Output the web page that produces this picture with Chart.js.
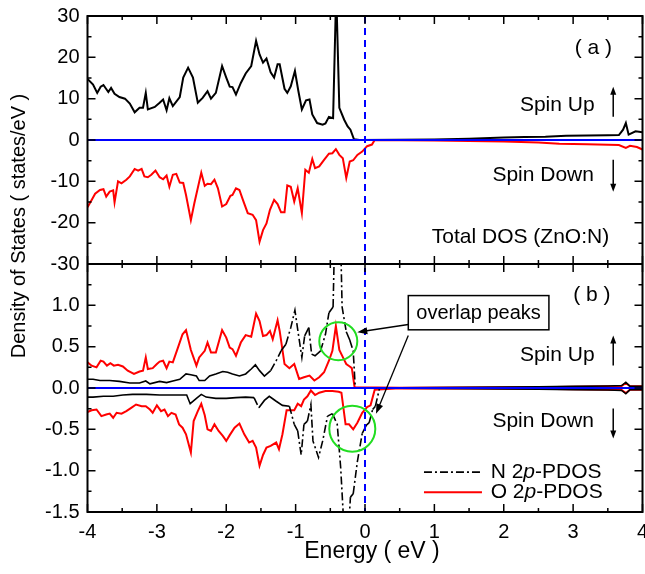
<!DOCTYPE html>
<html>
<head>
<meta charset="utf-8">
<script src="https://cdn.jsdelivr.net/npm/chart.js@4.4.1/dist/chart.umd.min.js"></script>
<style>
  body { margin: 0; background: #fff; }
</style>
</head>
<body>
<canvas id="myChart" width="645" height="574"></canvas>
<script>
// Datos (energía en eV, DOS en estados/eV)

// (a) DOS total, spin up
const totUpE = [-4.00,-3.92,-3.86,-3.81,-3.77,-3.70,-3.66,-3.61,-3.54,-3.46,-3.39,-3.32,-3.25,-3.20,-3.16,-3.13,-3.03,-2.96,-2.91,-2.86,-2.82,-2.77,-2.67,-2.62,-2.55,-2.48,-2.41,-2.34,-2.27,-2.22,-2.15,-2.06,-2.00,-1.95,-1.91,-1.86,-1.79,-1.72,-1.64,-1.57,-1.52,-1.47,-1.42,-1.36,-1.31,-1.26,-1.23,-1.16,-1.12,-1.07,-1.01,-0.96,-0.91,-0.85,-0.80,-0.76,-0.69,-0.61,-0.57,-0.52,-0.46,-0.415,-0.37,-0.30,-0.25,-0.21,-0.16,-0.08,0.5,1.0,1.5,2.0,2.3,2.6,2.9,3.2,3.5,3.66,3.72,3.76,3.80,3.9,4.0];
const totUpV = [14.8,13.4,11.4,12.9,13.3,11.6,12.6,11.2,10.4,10.0,8.8,6.7,7.8,7.8,11.4,7.4,8.0,9.0,9.8,7.2,10.1,8.2,10.4,15.1,17.5,15.1,9.0,10.2,11.8,10.0,11.4,17.9,15.1,12.9,12.8,11.0,13.8,16.1,17.9,24.0,20.7,18.7,19.7,16.4,15.1,18.3,18.3,12.4,11.4,13.0,16.7,11.8,7.4,9.6,9.8,6.2,4.1,3.7,4.0,5.6,5.3,36,7.8,4.9,3.3,2.5,0.2,0,0.05,0.15,0.3,0.6,0.75,0.8,1.0,1.1,1.15,1.2,2.5,4.1,1.3,2.1,1.9];

// (a) DOS total, spin down
const totDnE = [-4.00,-3.94,-3.89,-3.82,-3.77,-3.73,-3.68,-3.63,-3.61,-3.56,-3.51,-3.44,-3.39,-3.32,-3.27,-3.22,-3.18,-3.13,-3.08,-3.02,-2.96,-2.91,-2.86,-2.82,-2.77,-2.72,-2.67,-2.62,-2.58,-2.51,-2.46,-2.36,-2.31,-2.27,-2.22,-2.17,-2.12,-2.06,-2.00,-1.94,-1.91,-1.86,-1.81,-1.76,-1.69,-1.62,-1.57,-1.52,-1.47,-1.42,-1.37,-1.31,-1.26,-1.21,-1.16,-1.12,-1.07,-1.02,-0.97,-0.91,-0.86,-0.81,-0.76,-0.72,-0.66,-0.59,-0.52,-0.47,-0.42,-0.37,-0.32,-0.27,-0.22,-0.17,-0.11,-0.04,0.03,0.10,0.14,0.5,1.0,1.5,2.0,2.5,2.8,3.2,3.66,3.76,3.82,3.92,4.0];
const totDnV = [-16.3,-14.5,-13.0,-12.1,-11.9,-13.7,-12.5,-12.2,-15.1,-10.0,-10.5,-9.6,-8.8,-7.0,-7.4,-7.0,-8.8,-9.0,-8.4,-7.4,-9.0,-9.5,-8.6,-11.3,-8.4,-8.2,-10.3,-10.4,-13.3,-19.4,-15.3,-7.9,-11.1,-10.6,-10.7,-9.6,-11.7,-16.1,-15.5,-13.5,-13.3,-11.7,-12.1,-14.5,-17.7,-18.1,-19.4,-24.6,-21.8,-20.2,-16.9,-14.5,-15.5,-17.5,-17.5,-11.0,-11.3,-14.9,-11.7,-17.7,-7.2,-7.9,-4.6,-6.8,-6.4,-4.8,-3.3,-3.2,-2.2,-3.6,-4.4,-9.2,-5.2,-4.9,-3.6,-2.8,-1.5,-1.1,0,-0.05,-0.1,-0.25,-0.35,-0.6,-0.9,-1.0,-1.2,-1.9,-1.4,-1.7,-2.3];

// (b) N 2p, spin up
const nUpE = [-4.00,-3.92,-3.82,-3.68,-3.54,-3.39,-3.25,-3.16,-3.10,-2.96,-2.86,-2.77,-2.67,-2.58,-2.51,-2.43,-2.39,-2.31,-2.24,-2.15,-2.05,-1.98,-1.91,-1.81,-1.72,-1.64,-1.58,-1.52,-1.45,-1.36,-1.28,-1.21,-1.14,-1.07,-1.01,-0.96,-0.91,-0.87,-0.81,-0.77,-0.72,-0.64,-0.57,-0.52,-0.46,-0.395,-0.33,-0.27,-0.22,-0.17,-0.14,0.5,1.5,2.5,3.0,3.5,3.7,3.76,3.82,4.0];
const nUpV = [0.105,0.105,0.09,0.09,0.08,0.06,0.06,0.085,0.05,0.08,0.065,0.085,0.105,0.17,0.16,0.145,0.09,0.09,0.145,0.17,0.20,0.19,0.17,0.145,0.17,0.23,0.28,0.21,0.145,0.21,0.33,0.45,0.53,0.73,0.94,0.65,0.37,0.63,0.73,0.41,0.39,0.45,0.65,0.91,0.98,3.5,0.98,0.68,0.58,0.45,0,0.003,0.008,0.015,0.02,0.025,0.03,0.07,0.02,0.02];

// (b) N 2p, spin down
const nDnE = [-4.00,-3.92,-3.77,-3.63,-3.49,-3.35,-3.15,-2.96,-2.82,-2.67,-2.57,-2.52,-2.43,-2.36,-2.29,-2.15,-2.00,-1.86,-1.72,-1.60,-1.53,-1.45,-1.38,-1.28,-1.19,-1.09,-1.02,-0.97,-0.92,-0.88,-0.83,-0.78,-0.75,-0.67,-0.61,-0.54,-0.47,-0.40,-0.35,-0.27,-0.21,-0.17,-0.11,-0.04,0.02,0.06,0.11,0.15,0.21,0.5,1.5,2.5,3.0,3.5,3.7,3.76,3.82,4.0];
const nDnV = [-0.11,-0.11,-0.10,-0.10,-0.085,-0.077,-0.077,-0.085,-0.085,-0.085,-0.085,-0.19,-0.125,-0.077,-0.11,-0.125,-0.125,-0.117,-0.11,-0.117,-0.24,-0.15,-0.10,-0.16,-0.21,-0.22,-0.44,-0.52,-0.81,-0.44,-0.40,-0.20,-0.64,-0.84,-0.64,-0.34,-0.31,-0.44,-0.97,-2.2,-1.32,-1.28,-0.89,-0.55,-0.45,-0.42,-0.26,-0.22,0,-0.003,-0.008,-0.015,-0.02,-0.025,-0.03,-0.07,-0.02,-0.02];

// (b) O 2p, spin up
const oUpE = [-4.00,-3.94,-3.87,-3.81,-3.77,-3.72,-3.67,-3.62,-3.56,-3.49,-3.42,-3.33,-3.25,-3.20,-3.16,-3.13,-3.06,-3.00,-2.96,-2.91,-2.86,-2.82,-2.77,-2.70,-2.63,-2.58,-2.51,-2.43,-2.39,-2.31,-2.27,-2.22,-2.15,-2.06,-2.00,-1.95,-1.91,-1.86,-1.79,-1.72,-1.64,-1.57,-1.52,-1.47,-1.42,-1.37,-1.33,-1.26,-1.23,-1.16,-1.09,-1.02,-0.95,-0.88,-0.80,-0.73,-0.66,-0.59,-0.52,-0.47,-0.42,-0.37,-0.30,-0.27,-0.22,-0.19,-0.15,0.5,1.5,2.5,3.0,3.5,3.7,3.76,3.82,4.0];
const oUpV = [0.31,0.27,0.25,0.33,0.32,0.27,0.30,0.27,0.28,0.26,0.21,0.17,0.20,0.21,0.37,0.23,0.24,0.29,0.32,0.33,0.24,0.32,0.31,0.48,0.65,0.70,0.46,0.27,0.37,0.45,0.55,0.43,0.43,0.70,0.61,0.49,0.47,0.39,0.55,0.64,0.62,0.90,0.81,0.63,0.64,0.69,0.59,0.82,0.69,0.29,0.24,0.29,0.11,0.13,0.15,0.09,0.13,0.19,0.33,0.45,0.75,0.46,0.34,0.29,0.26,0.24,0.01,0.002,0.005,0.01,0.015,0.02,0.025,0.06,0.02,0.02];

// (b) O 2p, spin down
const oDnE = [-4.00,-3.94,-3.87,-3.80,-3.73,-3.68,-3.63,-3.58,-3.51,-3.44,-3.37,-3.30,-3.22,-3.16,-3.10,-3.06,-3.00,-2.94,-2.89,-2.84,-2.79,-2.73,-2.68,-2.63,-2.58,-2.51,-2.47,-2.41,-2.36,-2.31,-2.27,-2.22,-2.17,-2.11,-2.05,-2.00,-1.95,-1.88,-1.81,-1.74,-1.67,-1.62,-1.57,-1.52,-1.47,-1.42,-1.36,-1.28,-1.24,-1.19,-1.13,-1.07,-1.02,-0.97,-0.92,-0.88,-0.83,-0.78,-0.72,-0.66,-0.57,-0.47,-0.38,-0.34,-0.28,-0.23,-0.17,-0.11,-0.04,0.03,0.08,0.14,0.5,1.5,2.5,3.0,3.5,3.7,3.76,3.82,4.0];
const oDnV = [-0.29,-0.27,-0.26,-0.34,-0.32,-0.31,-0.36,-0.30,-0.31,-0.28,-0.24,-0.20,-0.22,-0.22,-0.26,-0.30,-0.21,-0.28,-0.26,-0.34,-0.30,-0.32,-0.44,-0.48,-0.56,-0.78,-0.40,-0.28,-0.19,-0.33,-0.50,-0.52,-0.44,-0.52,-0.58,-0.64,-0.57,-0.48,-0.43,-0.56,-0.66,-0.64,-0.72,-0.94,-0.81,-0.72,-0.70,-0.66,-0.74,-0.56,-0.27,-0.27,-0.27,-0.19,-0.22,-0.14,-0.10,-0.03,-0.085,-0.057,-0.036,-0.036,-0.045,-0.057,-0.44,-0.44,-0.50,-0.42,-0.30,-0.23,-0.21,-0.02,-0.002,-0.005,-0.01,-0.015,-0.02,-0.025,-0.06,-0.02,-0.02];

// Ejes
const xTicks = [-4, -3, -2, -1, 0, 1, 2, 3, 4];
const yTicksA = [30, 20, 10, 0, -10, -20, -30];
const yTicksB = [1.0, 0.5, 0.0, -0.5, -1.0, -1.5];

const FONT = "'Liberation Sans', Arial, sans-serif";
Chart.defaults.font.family = FONT;
Chart.defaults.color = '#000';

function pts(E, V) {
    return E.map((e, i) => ({ x: e, y: V[i] }));
}

// Origin-like dash-dot: solo en los tramos largos y empinados
const dashDot = [8, 3, 2, 3];
function nSegment(ctx) {
    const dx = ctx.p1.x - ctx.p0.x, dy = ctx.p1.y - ctx.p0.y;
    return (Math.abs(dy) > 7 && Math.hypot(dx, dy) > 10) ? dashDot : [];
}

function line(label, E, V, axis, color, extra) {
    return Object.assign({
        label: label,
        data: pts(E, V),
        yAxisID: axis,
        borderColor: color,
        borderWidth: 2,
        pointRadius: 0,
        tension: 0,
        fill: false
    }, extra || {});
}

const datasets = [
    line('Total up', totUpE, totUpV, 'ya', '#000'),
    line('Total down', totDnE, totDnV, 'ya', '#ff0000'),
    line('N 2p up', nUpE, nUpV, 'yb', '#000', { borderWidth: 1.6, segment: { borderDash: nSegment } }),
    line('N 2p down', nDnE, nDnV, 'yb', '#000', { borderWidth: 1.6, segment: { borderDash: nSegment } }),
    line('O 2p up', oUpE, oUpV, 'yb', '#ff0000'),
    line('O 2p down', oDnE, oDnV, 'yb', '#ff0000')
];

function arrowHead(ctx, x0, y0, x1, y1, len, half) {
    const a = Math.atan2(y1 - y0, x1 - x0);
    ctx.beginPath();
    ctx.moveTo(x1, y1);
    ctx.lineTo(x1 - len * Math.cos(a) + half * Math.sin(a), y1 - len * Math.sin(a) - half * Math.cos(a));
    ctx.lineTo(x1 - len * Math.cos(a) - half * Math.sin(a), y1 - len * Math.sin(a) + half * Math.cos(a));
    ctx.closePath();
    ctx.fill();
}

function arrow(ctx, x0, y0, x1, y1, len, half) {
    const a = Math.atan2(y1 - y0, x1 - x0);
    ctx.beginPath();
    ctx.moveTo(x0, y0);
    ctx.lineTo(x1 - len * 0.8 * Math.cos(a), y1 - len * 0.8 * Math.sin(a));
    ctx.stroke();
    arrowHead(ctx, x0, y0, x1, y1, len, half);
}

const decor = {
    id: 'decor',
    // cada panel recorta sus propias curvas
    beforeDatasetDraw(chart, args) {
        const ds = chart.data.datasets[args.index];
        const ys = chart.scales[ds.yAxisID];
        const a = chart.chartArea;
        chart.ctx.save();
        chart.ctx.beginPath();
        chart.ctx.rect(a.left, ys.top, a.right - a.left, ys.bottom - ys.top);
        chart.ctx.clip();
    },
    afterDatasetDraw(chart) {
        chart.ctx.restore();
    },
    afterDatasetsDraw(chart) {
        const ctx = chart.ctx;
        const a = chart.chartArea;
        const x = chart.scales.x, ya = chart.scales.ya, yb = chart.scales.yb;
        ctx.save();

        // líneas azules en 0
        ctx.strokeStyle = '#0000ff';
        ctx.lineWidth = 2;
        [ya, yb].forEach(s => {
            ctx.beginPath();
            ctx.moveTo(a.left, s.getPixelForValue(0));
            ctx.lineTo(a.right, s.getPixelForValue(0));
            ctx.stroke();
        });
        ctx.setLineDash([7, 5]);
        ctx.beginPath();
        ctx.moveTo(x.getPixelForValue(0), a.top);
        ctx.lineTo(x.getPixelForValue(0), a.bottom);
        ctx.stroke();
        ctx.setLineDash([]);

        // marco y divisor
        ctx.strokeStyle = '#000';
        ctx.lineWidth = 2;
        ctx.strokeRect(a.left, a.top, a.right - a.left, a.bottom - a.top);
        ctx.beginPath();
        ctx.moveTo(a.left, ya.bottom);
        ctx.lineTo(a.right, ya.bottom);
        ctx.stroke();

        // marcas hacia dentro
        ctx.lineWidth = 1.5;
        ctx.beginPath();
        for (let e = -4; e <= 4.001; e += 0.5) {
            const px = x.getPixelForValue(e);
            const L = Math.abs(e - Math.round(e)) < 1e-6 ? 8 : 4;
            [ya, yb].forEach(s => {
                ctx.moveTo(px, s.top); ctx.lineTo(px, s.top + L);
                ctx.moveTo(px, s.bottom); ctx.lineTo(px, s.bottom - L);
            });
        }
        [[ya, 5, 10], [yb, 0.25, 0.5]].forEach(([s, minor, major]) => {
            for (let v = s.min; v <= s.max + 1e-6; v += minor) {
                const py = s.getPixelForValue(v);
                const L = Math.abs(v / major - Math.round(v / major)) < 1e-6 ? 8 : 4;
                ctx.moveTo(a.left, py); ctx.lineTo(a.left + L, py);
                ctx.moveTo(a.right, py); ctx.lineTo(a.right - L, py);
            }
        });
        ctx.stroke();

        // círculos verdes
        ctx.strokeStyle = '#22dd22';
        ctx.lineWidth = 2;
        ctx.beginPath();
        ctx.arc(x.getPixelForValue(-0.385), yb.getPixelForValue(0.566), 19, 0, 2 * Math.PI);
        ctx.stroke();
        ctx.beginPath();
        ctx.arc(x.getPixelForValue(-0.183), yb.getPixelForValue(-0.493), 23, 0, 2 * Math.PI);
        ctx.stroke();

        // textos
        ctx.fillStyle = '#000';
        ctx.strokeStyle = '#000';
        ctx.textBaseline = 'middle';
        ctx.font = '21px ' + FONT;
        ctx.textAlign = 'right';
        ctx.fillText('( a )', x.getPixelForValue(3.56), ya.getPixelForValue(22.1));
        ctx.fillText('Spin Up', x.getPixelForValue(3.31), ya.getPixelForValue(8.3));
        ctx.fillText('Spin Down', x.getPixelForValue(3.30), ya.getPixelForValue(-8.4));
        ctx.fillText('Total DOS (ZnO:N)', x.getPixelForValue(3.52), ya.getPixelForValue(-23.4));
        ctx.fillText('( b )', x.getPixelForValue(3.54), yb.getPixelForValue(1.119));
        ctx.fillText('Spin Up', x.getPixelForValue(3.31), yb.getPixelForValue(0.393));
        ctx.fillText('Spin Down', x.getPixelForValue(3.30), yb.getPixelForValue(-0.402));

        // flechas de spin
        ctx.lineWidth = 1.5;
        const ax = x.getPixelForValue(3.578);
        arrow(ctx, ax, ya.getPixelForValue(5.6), ax, ya.getPixelForValue(12.9), 8, 3);
        arrow(ctx, ax, ya.getPixelForValue(-4.8), ax, ya.getPixelForValue(-12.5), 8, 3);
        arrow(ctx, ax, yb.getPixelForValue(0.272), ax, yb.getPixelForValue(0.635), 8, 3);
        arrow(ctx, ax, yb.getPixelForValue(-0.248), ax, yb.getPixelForValue(-0.611), 8, 3);

        // caja "overlap peaks" y flechas
        const bx0 = x.getPixelForValue(0.624), bx1 = x.getPixelForValue(2.651);
        const by0 = yb.getPixelForValue(1.118), by1 = yb.getPixelForValue(0.704);
        ctx.fillStyle = '#fff';
        ctx.fillRect(bx0, by0, bx1 - bx0, by1 - by0);
        ctx.fillStyle = '#000';
        ctx.strokeRect(bx0, by0, bx1 - bx0, by1 - by0);
        ctx.font = '20px ' + FONT;
        ctx.textAlign = 'center';
        ctx.fillText('overlap peaks', (bx0 + bx1) / 2, (by0 + by1) / 2 + 1);
        ctx.lineWidth = 1.3;
        arrow(ctx, bx0, yb.getPixelForValue(0.768), x.getPixelForValue(-0.111), yb.getPixelForValue(0.675), 10, 3.5);
        arrow(ctx, bx0, yb.getPixelForValue(0.635), x.getPixelForValue(0.158), yb.getPixelForValue(-0.312), 10, 3.5);

        // leyenda
        const lx0 = x.getPixelForValue(0.85), lx1 = x.getPixelForValue(1.686);
        const tx = x.getPixelForValue(1.811);
        const ly = [yb.getPixelForValue(-1.018), yb.getPixelForValue(-1.26)];
        ctx.lineWidth = 1.6;
        ctx.setLineDash(dashDot);
        ctx.beginPath(); ctx.moveTo(lx0, ly[0]); ctx.lineTo(lx1, ly[0]); ctx.stroke();
        ctx.setLineDash([]);
        ctx.strokeStyle = '#ff0000';
        ctx.lineWidth = 2;
        ctx.beginPath(); ctx.moveTo(lx0, ly[1]); ctx.lineTo(lx1, ly[1]); ctx.stroke();
        ctx.textAlign = 'left';
        [['N 2', ly[0]], ['O 2', ly[1]]].forEach(([head, yy]) => {
            let cx = tx;
            ctx.font = '21px ' + FONT;
            ctx.fillText(head, cx, yy); cx += ctx.measureText(head).width;
            ctx.font = 'italic 21px ' + FONT;
            ctx.fillText('p', cx, yy); cx += ctx.measureText('p').width;
            ctx.font = '21px ' + FONT;
            ctx.fillText('-PDOS', cx, yy);
        });

        // títulos de los ejes
        ctx.textAlign = 'center';
        ctx.font = '23px ' + FONT;
        ctx.fillText('Energy ( eV )', (a.left + a.right) / 2 + 7, 552);
        ctx.save();
        ctx.translate(19, 226);
        ctx.rotate(-Math.PI / 2);
        ctx.font = '20px ' + FONT;
        ctx.fillText('Density of States ( states/eV )', 0, 0);
        ctx.restore();

        ctx.restore();
    }
};

function yAxis(min, max, ticks, fmt) {
    return {
        type: 'linear',
        position: 'left',
        stack: 'dos',
        stackWeight: 1,
        min: min,
        max: max,
        afterBuildTicks: s => { s.ticks = ticks.map(v => ({ value: v })); },
        afterFit: s => { s.width = 87.5; s.paddingTop = 0; s.paddingBottom = 0; },
        grid: { display: false, drawTicks: false },
        border: { display: false },
        ticks: { padding: 8, autoSkip: false, font: { size: 20 }, callback: fmt }
    };
}

const config = {
    type: 'line',
    data: { datasets: datasets },
    options: {
        responsive: false,
        animation: false,
        layout: { padding: { top: 16, right: 2.5, left: 0, bottom: 0 } },
        plugins: { legend: { display: false }, tooltip: { enabled: false } },
        scales: {
            x: {
                type: 'linear',
                min: -4,
                max: 4,
                afterBuildTicks: s => { s.ticks = xTicks.map(v => ({ value: v })); },
                afterFit: s => { s.height = 62; s.paddingLeft = 0; s.paddingRight = 0; },
                grid: { display: false, drawTicks: false },
                border: { display: false },
                ticks: { padding: 8, autoSkip: false, maxRotation: 0, font: { size: 20 }, callback: v => String(v) }
            },
            // en una pila de ejes el último declarado queda arriba
            yb: yAxis(-1.5, 1.5, yTicksB, v => Math.abs(v - 1.5) < 1e-6 ? '' : v.toFixed(1)),
            ya: yAxis(-30, 30, yTicksA, v => String(v))
        }
    },
    plugins: [decor]
};

var myChart = new Chart(document.getElementById('myChart'), config);
</script>
</body>
</html>
